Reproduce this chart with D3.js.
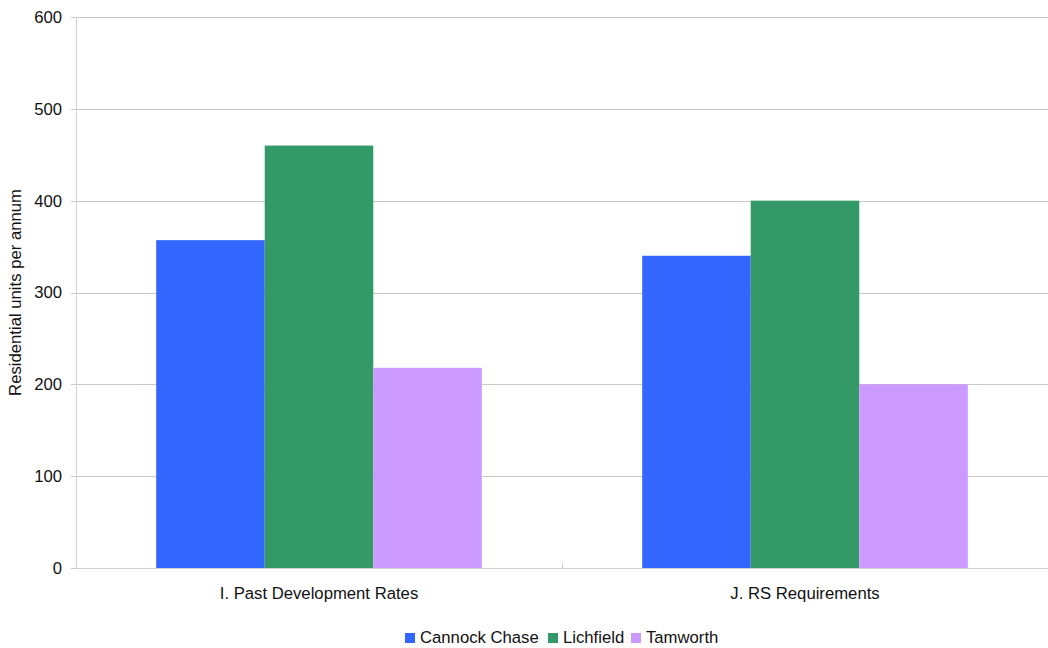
<!DOCTYPE html>
<html>
<head>
<meta charset="utf-8">
<script src="https://cdn.jsdelivr.net/npm/d3@7"></script>
<style>
  html, body { margin: 0; padding: 0; background: #ffffff; }
  svg { display: block; font-family: "Liberation Sans", Arial, sans-serif; }
</style>
</head>
<body>
<svg id="chart" width="1048" height="648"></svg>
<script>
// Residential units per annum by district
const categories = ["I. Past Development Rates", "J. RS Requirements"];
const seriesNames = ["Cannock Chase", "Lichfield", "Tamworth"];
const cannockChase = [357, 340];
const lichfield = [460, 400];
const tamworth = [218, 200];
const yTicks = [0, 100, 200, 300, 400, 500, 600];
const colors = ["#3366ff", "#339966", "#cc99ff"];

const seriesValues = [cannockChase, lichfield, tamworth];

const svg = d3.select("#chart");
const margin = { left: 76, right: 0, top: 17, bottom: 80 };
const width = 1048, height = 648;
const plotBottom = 568;
const labelSize = 16.7;

const x0 = d3.scaleBand()
  .domain(categories)
  .range([margin.left, width - margin.right])
  .paddingInner(0)
  .paddingOuter(0);

const groupFrac = 0.67;
const x1 = d3.scaleBand()
  .domain(seriesNames)
  .range([0, x0.bandwidth() * groupFrac]);

const y = d3.scaleLinear().domain([0, 600]).range([plotBottom, margin.top]);

// Horizontal gridlines
svg.append("g")
  .selectAll("line")
  .data(yTicks)
  .join("line")
  .attr("x1", margin.left - 5)
  .attr("x2", width)
  .attr("y1", d => Math.round(y(d)) + 0.5)
  .attr("y2", d => Math.round(y(d)) + 0.5)
  .attr("stroke", "#c8c8c8")
  .attr("stroke-width", 1);

// Y tick labels
svg.append("g")
  .selectAll("text")
  .data(yTicks)
  .join("text")
  .attr("x", 62)
  .attr("y", d => y(d))
  .attr("dy", "0.35em")
  .attr("text-anchor", "end")
  .attr("font-size", labelSize)
  .attr("fill", "#111")
  .text(d => d);

// Bars
const groups = svg.append("g")
  .selectAll("g")
  .data(categories)
  .join("g")
  .attr("transform", (c) => `translate(${x0(c) + x0.bandwidth() * (1 - groupFrac) / 2},0)`);

groups.selectAll("rect")
  .data((c, i) => seriesNames.map((s, j) => ({ s, v: seriesValues[j][i], j })))
  .join("rect")
  .attr("x", d => x1(d.s))
  .attr("width", x1.bandwidth())
  .attr("y", d => y(d.v))
  .attr("height", d => plotBottom - y(d.v))
  .attr("fill", d => colors[d.j]);

// Y axis line
svg.append("line")
  .attr("x1", margin.left + 0.5).attr("x2", margin.left + 0.5)
  .attr("y1", margin.top).attr("y2", plotBottom)
  .attr("stroke", "#d0d0d0");

// X axis line and category separator ticks
svg.append("line")
  .attr("x1", margin.left).attr("x2", width)
  .attr("y1", plotBottom + 0.5).attr("y2", plotBottom + 0.5)
  .attr("stroke", "#d0d0d0");

svg.append("g")
  .selectAll("line")
  .data(categories.slice(1))
  .join("line")
  .attr("x1", c => Math.round(x0(c)) + 0.5)
  .attr("x2", c => Math.round(x0(c)) + 0.5)
  .attr("y1", plotBottom - 5)
  .attr("y2", plotBottom)
  .attr("stroke", "#d0d0d0");

// Category labels
svg.append("g")
  .selectAll("text")
  .data(categories)
  .join("text")
  .attr("x", c => x0(c) + x0.bandwidth() / 2)
  .attr("y", 599)
  .attr("text-anchor", "middle")
  .attr("font-size", labelSize)
  .attr("fill", "#111")
  .text(c => c);

// Y axis title
svg.append("text")
  .attr("transform", `translate(21,${(margin.top + plotBottom) / 2}) rotate(-90)`)
  .attr("text-anchor", "middle")
  .attr("font-size", labelSize)
  .attr("fill", "#111")
  .text("Residential units per annum");

// Legend
const legendItems = [
  { name: seriesNames[0], x: 405 },
  { name: seriesNames[1], x: 548 },
  { name: seriesNames[2], x: 631 }
];
const legend = svg.append("g");
legendItems.forEach((item, i) => {
  legend.append("rect")
    .attr("x", item.x).attr("y", 633)
    .attr("width", 10).attr("height", 10)
    .attr("fill", colors[i]);
  legend.append("text")
    .attr("x", item.x + 15).attr("y", 643)
    .attr("font-size", labelSize)
    .attr("fill", "#111")
    .text(item.name);
});
</script>
</body>
</html>
